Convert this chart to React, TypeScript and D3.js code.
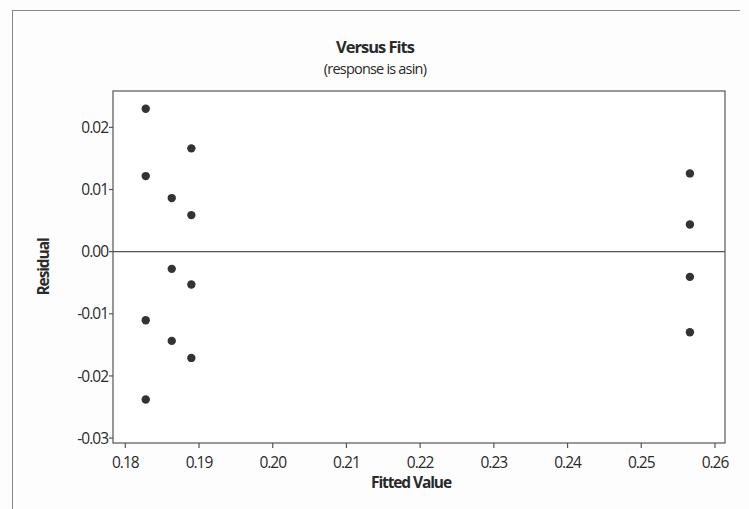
import React from "react";
import * as d3 from "d3";

const fittedValues = [
  0.18277, 0.18277, 0.18277, 0.18277,
  0.18630, 0.18630, 0.18630,
  0.18896, 0.18896, 0.18896, 0.18896,
  0.25660, 0.25660, 0.25660, 0.25660,
];
const residuals = [
  0.0230, 0.01216, -0.01103, -0.0238,
  0.00862, -0.00277, -0.01436,
  0.01662, 0.00588, -0.00528, -0.01710,
  0.01259, 0.00438, -0.00406, -0.01297,
];
const xTicks = [0.18, 0.19, 0.2, 0.21, 0.22, 0.23, 0.24, 0.25, 0.26];
const yTicks = [0.02, 0.01, 0.0, -0.01, -0.02, -0.03];
const title = "Versus Fits";
const subtitle = "(response is asin)";
const xLabel = "Fitted Value";
const yLabel = "Residual";

const W = 749;
const H = 509;
const plot = { left: 113, right: 725, top: 91, bottom: 443 };

export default function App() {
  const x = d3.scaleLinear().domain([0.17833, 0.26136]).range([plot.left, plot.right]);
  const y = d3.scaleLinear().domain([-0.03079, 0.02585]).range([plot.bottom, plot.top]);
  const font = "'Open Sans', 'DejaVu Sans', sans-serif";
  const txt = "#2a2a2a";
  return (
    <svg width={W} height={H} style={{ position: "absolute", left: 0, top: 0, background: "#fdfdfd" }}>
      <rect x={0} y={0} width={W} height={H} fill="#fdfdfd" />
      {/* outer frame */}
      <line x1={12} x2={740} y1={10.5} y2={10.5} stroke="#888" strokeWidth={1} />
      <line x1={12.5} x2={12.5} y1={10} y2={H} stroke="#888" strokeWidth={1} />
      <text x={375} y={53} textAnchor="middle" fontFamily={font} fontWeight="bold" fontSize={16.5} letterSpacing={-1} fill={txt}>
        {title}
      </text>
      <text x={375} y={74} textAnchor="middle" fontFamily={font} fontSize={14.5} letterSpacing={-0.8} fill={txt}>
        {subtitle}
      </text>
      {/* plot area */}
      <rect x={plot.left} y={plot.top} width={plot.right - plot.left} height={plot.bottom - plot.top} fill="#fff" stroke="#555" strokeWidth={1.2} />
      <line x1={plot.left} x2={plot.right} y1={y(0)} y2={y(0)} stroke="#555" strokeWidth={1.2} />
      {yTicks.map((t) => (
        <g key={"y" + t}>
          <line x1={plot.left - 4} x2={plot.left} y1={y(t)} y2={y(t)} stroke="#555" strokeWidth={1.2} />
          <text x={plot.left - 5} y={y(t)} dy="0.36em" textAnchor="end" fontFamily={font} fontSize={15.5} letterSpacing={-1} fill={txt}>
            {d3.format(".2f")(t).replace("−", "-")}
          </text>
        </g>
      ))}
      {xTicks.map((t) => (
        <g key={"x" + t}>
          <line x1={x(t)} x2={x(t)} y1={plot.bottom} y2={plot.bottom + 5} stroke="#555" strokeWidth={1.2} />
          <text x={x(t)} y={plot.bottom + 25} textAnchor="middle" fontFamily={font} fontSize={15.5} letterSpacing={-1} fill={txt}>
            {d3.format(".2f")(t)}
          </text>
        </g>
      ))}
      <text x={411} y={488} textAnchor="middle" fontFamily={font} fontWeight="bold" fontSize={15.5} letterSpacing={-1.1} fill={txt}>
        {xLabel}
      </text>
      <text transform={`translate(49, 267) rotate(-90)`} textAnchor="middle" fontFamily={font} fontWeight="bold" fontSize={15.5} letterSpacing={-1.1} fill={txt}>
        {yLabel}
      </text>
      {fittedValues.map((f, i) => (
        <circle key={i} cx={x(f)} cy={y(residuals[i])} r={4.2} fill="#333" />
      ))}
    </svg>
  );
}
